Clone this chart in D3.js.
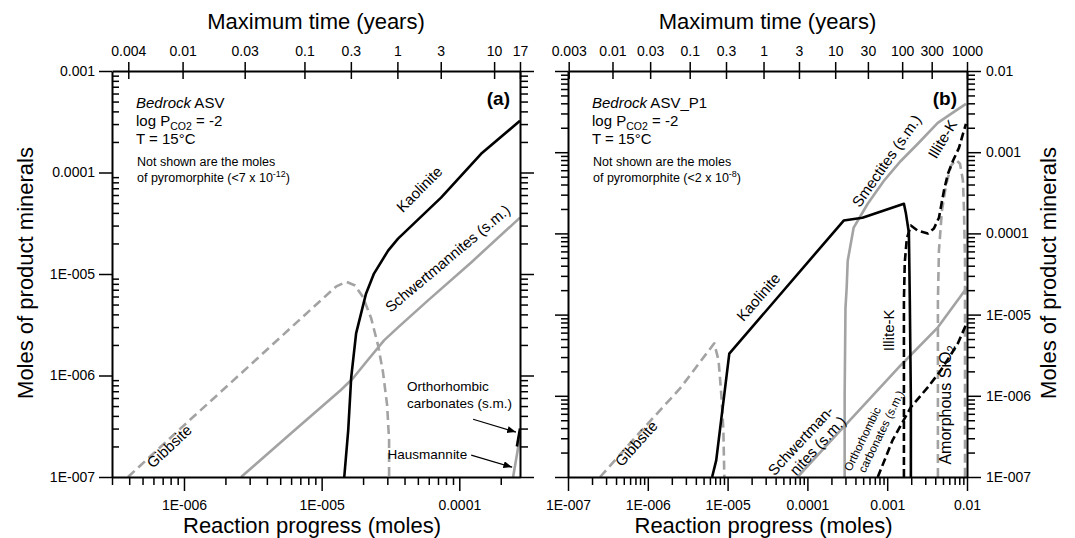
<!DOCTYPE html>
<html>
<head>
<meta charset="utf-8">
<script src="https://cdn.jsdelivr.net/npm/d3@7"></script>
<style>
body { margin: 0; background: #fff; }
svg text { font-family: "Liberation Sans", Arial, sans-serif; fill: #000; }
</style>
</head>
<body>
<svg id="chart" width="1075" height="538"></svg>
<script>
// values: [reaction progress (moles), moles of mineral]

// ---- panel (a): Bedrock ASV ----
var xTicksA = [1e-6, 1e-5, 1e-4];
var xLabelsA = ["1E-006", "1E-005", "0.0001"];
var yTicksA = [1e-7, 1e-6, 1e-5, 1e-4, 1e-3];
var yLabelsA = ["1E-007", "1E-006", "1E-005", "0.0001", "0.001"];
var timeLabelsA = ["0.004", "0.01", "0.03", "0.1", "0.3", "1", "3", "10", "17"];
var timeProgressA = [3.94e-7, 9.77e-7, 2.76e-6, 7.5e-6, 1.63e-5, 3.55e-5, 7.33e-5, 1.79e-4, 2.76e-4];

var gibbsiteA = [[3.92e-7, 1e-7], [9.5e-7, 3.03e-7], [2.6e-6, 1.05e-6], [7.1e-6, 3.66e-6],
  [1.27e-5, 7.5e-6], [1.51e-5, 8.4e-6], [1.75e-5, 7.7e-6], [2.0e-5, 5.9e-6], [2.29e-5, 3.66e-6],
  [2.57e-5, 1.98e-6], [2.79e-5, 1.08e-6], [2.99e-5, 5.1e-7], [3.09e-5, 2.3e-7], [3.09e-5, 1e-7]];
var kaoliniteA = [[1.46e-5, 1e-7], [1.56e-5, 2.9e-7], [1.64e-5, 9.6e-7], [1.78e-5, 2.6e-6],
  [2.1e-5, 6.4e-6], [2.4e-5, 1.01e-5], [3.04e-5, 1.7e-5], [3.59e-5, 2.23e-5], [7.37e-5, 5.65e-5],
  [1.44e-4, 1.53e-4], [2.76e-4, 3.23e-4]];
var schwertA = [[2.6e-6, 1e-7], [6.0e-6, 2.7e-7], [1.38e-5, 7.2e-7], [1.69e-5, 9.4e-7],
  [2.1e-5, 1.35e-6], [2.84e-5, 2.22e-6], [3.59e-5, 2.98e-6], [5.93e-5, 5.5e-6],
  [1.22e-4, 1.3e-5], [2.76e-4, 3.59e-5]];
var carbonatesA = [[2.62e-4, 2.0e-7], [2.76e-4, 3.0e-7]];
var hausmanniteA = [[2.46e-4, 1e-7], [2.76e-4, 2.5e-7]];

// ---- panel (b): Bedrock ASV_P1 ----
var xTicksB = [1e-7, 1e-6, 1e-5, 1e-4, 1e-3, 1e-2];
var xLabelsB = ["1E-007", "1E-006", "1E-005", "0.0001", "0.001", "0.01"];
var yTicksB = [1e-7, 1e-6, 1e-5, 1e-4, 1e-3, 1e-2];
var yLabelsB = ["1E-007", "1E-006", "1E-005", "0.0001", "0.001", "0.01"];
var timeLabelsB = ["0.003", "0.01", "0.03", "0.1", "0.3", "1", "3", "10", "30", "100", "300", "1000"];
var timeProgressB = [1.02e-7, 3.61e-7, 1.07e-6, 3.35e-6, 9.55e-6, 2.82e-5, 7.84e-5, 2.23e-4,
  5.73e-4, 1.54e-3, 3.61e-3, 1.0e-2];

var gibbsiteB = [[2.52e-7, 1e-7], [8.0e-7, 3.57e-7], [2.55e-6, 1.24e-6], [6.8e-6, 4.43e-6],
  [7.7e-6, 2.74e-6], [8.35e-6, 1.02e-6], [8.85e-6, 3.8e-7], [9.1e-6, 1e-7]];
var kaoliniteB = [[6.4e-6, 1e-7], [7.2e-6, 1.6e-7], [1.05e-5, 3.3e-6], [2.85e-4, 1.44e-4],
  [4.9e-4, 1.56e-4], [1.62e-3, 2.32e-4], [1.71e-3, 1.8e-4], [1.87e-3, 1.02e-4],
  [1.92e-3, 1.5e-5], [1.98e-3, 8.8e-7], [1.98e-3, 1e-7]];
var smectitesB = [[2.93e-4, 1e-7], [2.93e-4, 1e-6], [3.0e-4, 1.2e-5], [3.11e-4, 2.2e-5],
  [3.2e-4, 4.6e-5], [3.8e-4, 1.18e-4], [5.7e-4, 2.32e-4], [9.1e-4, 4.45e-4], [1.48e-3, 7.8e-4],
  [2.42e-3, 1.27e-3], [4.3e-3, 2.3e-3], [6.3e-3, 2.96e-3], [9.7e-3, 3.94e-3]];
var schwertB = [[7.53e-5, 1e-7], [1.95e-4, 2.77e-7], [5.38e-4, 8.1e-7], [1.48e-3, 2.38e-6],
  [4.32e-3, 6.97e-6], [1e-2, 2.16e-5]];
var carbonatesB = [[7.62e-4, 1e-7], [1.17e-3, 2.85e-7], [1.98e-3, 7.24e-7], [3.24e-3, 1.28e-6],
  [4.71e-3, 2.06e-6], [7.7e-3, 4.43e-6], [1e-2, 8.0e-6]];
var illiteB = [[1.62e-3, 1e-7], [1.62e-3, 1.49e-5], [1.66e-3, 4.38e-5], [1.76e-3, 8.63e-5],
  [1.98e-3, 1.25e-4], [2.42e-3, 1.08e-4], [3.24e-3, 9.95e-5], [3.85e-3, 1.15e-4],
  [4.45e-3, 1.56e-4], [5.14e-3, 3.36e-4], [5.77e-3, 5.43e-4], [6.67e-3, 7.84e-4],
  [7.93e-3, 1.13e-3], [8.9e-3, 1.68e-3], [9.7e-3, 2.23e-3]];
var amorphousB = [[4.32e-3, 1e-7], [4.32e-3, 1.49e-5], [4.45e-3, 6.15e-5], [4.85e-3, 1.9e-4],
  [5.45e-3, 3.87e-4], [6.29e-3, 6.8e-4], [7.28e-3, 8.07e-4], [8.17e-3, 7.2e-4],
  [8.9e-3, 4.45e-4], [9.17e-3, 1.9e-4], [9.44e-3, 4.63e-5], [9.44e-3, 1e-7]];

var gray = "#a3a3a3";
var plotTop = 71, plotBottom = 477;

var svg = d3.select("#chart");

// marker for the little arrows in panel (a)
svg.append("defs").append("marker")
  .attr("id", "arrow")
  .attr("viewBox", "0 0 10 8")
  .attr("refX", 10).attr("refY", 4)
  .attr("markerWidth", 9).attr("markerHeight", 7)
  .attr("markerUnits", "userSpaceOnUse")
  .attr("orient", "auto")
  .append("path").attr("d", "M0,0 L10,4 L0,8 Z").attr("fill", "#000");

function styleAxis(g, width) {
  g.select(".domain").attr("stroke", "#000").attr("stroke-width", width);
  g.selectAll(".tick line").attr("stroke", "#000").attr("stroke-width", 1.5);
  g.selectAll(".tick text").attr("font-size", 14).attr("fill", "#000")
    .attr("font-family", "Liberation Sans, Arial, sans-serif");
}

function minorOf(scale, major) {
  return scale.ticks().filter(function(d) {
    return major.every(function(m) { return Math.abs(m - d) / m > 1e-6; });
  });
}

function drawPanel(p) {
  var x = d3.scaleLog().domain(p.xDomain).range(p.xRange);
  var y = d3.scaleLog().domain(p.yDomain).range([plotBottom, plotTop]);
  var x0 = p.xRange[0], x1 = p.xRange[1];

  var line = d3.line()
    .x(function(d) { return x(d[0]); })
    .y(function(d) { return y(d[1]); });

  // curves
  p.series.forEach(function(s) {
    svg.append("path")
      .datum(s.data)
      .attr("fill", "none")
      .attr("stroke", s.color)
      .attr("stroke-width", 2.6)
      .attr("stroke-dasharray", s.dash || null)
      .attr("stroke-linejoin", "round")
      .attr("d", line);
  });

  // bottom axis
  var xMinor = minorOf(x, p.xTicks);
  var gb = svg.append("g").attr("transform", "translate(0," + plotBottom + ")")
    .call(d3.axisBottom(x).tickValues(p.xTicks).tickSize(14).tickSizeOuter(0).tickPadding(9)
      .tickFormat(function(d, i) { return p.xLabels[i]; }));
  styleAxis(gb, 2);
  var gbm = svg.append("g").attr("transform", "translate(0," + plotBottom + ")")
    .call(d3.axisBottom(x).tickValues(xMinor).tickSize(8).tickFormat(""));
  gbm.select(".domain").remove();
  styleAxis(gbm, 2);

  // top axis: maximum time
  var gt = svg.append("g").attr("transform", "translate(0," + plotTop + ")")
    .call(d3.axisTop(x).tickValues(p.timeProgress).tickSize(9).tickSizeOuter(0).tickPadding(6)
      .tickFormat(function(d, i) { return p.timeLabels[i]; }));
  styleAxis(gt, 2);
  gt.selectAll(".tick line").attr("y1", 8);

  // y axes
  var yMinor = minorOf(y, p.yTicks);
  var gl = svg.append("g").attr("transform", "translate(" + x0 + ",0)")
    .call(d3.axisLeft(y).tickValues(p.yTicks).tickSize(13).tickSizeOuter(0).tickPadding(4)
      .tickFormat(function(d, i) { return p.leftLabels ? p.yLabels[i] : ""; }));
  styleAxis(gl, 2);
  var glm = svg.append("g").attr("transform", "translate(" + x0 + ",0)")
    .call((p.leftMinorInside ? d3.axisRight(y) : d3.axisLeft(y))
      .tickValues(yMinor).tickSize(7).tickFormat(""));
  glm.select(".domain").remove();
  styleAxis(glm, 2);

  var gr = svg.append("g").attr("transform", "translate(" + x1 + ",0)")
    .call(d3.axisRight(y).tickValues(p.yTicks).tickSize(14).tickSizeOuter(0).tickPadding(5)
      .tickFormat(function(d, i) { return p.leftLabels ? "" : p.yLabels[i]; }));
  styleAxis(gr, 2);
  var grm = svg.append("g").attr("transform", "translate(" + x1 + ",0)")
    .call(d3.axisRight(y).tickValues(yMinor).tickSize(8).tickFormat(""));
  grm.select(".domain").remove();
  styleAxis(grm, 2);

  // curve labels, placed in data units
  p.labels.forEach(function(l) {
    var t = svg.append("text")
      .attr("transform", "translate(" + x(l.at[0]) + "," + y(l.at[1]) + ") rotate(" + l.angle + ")")
      .attr("font-size", l.size || 15)
      .attr("text-anchor", l.anchor || "middle");
    l.lines.forEach(function(txt, i) {
      var ts = t.append("tspan").attr("x", (l.dx || 0) * i).attr("y", (l.lead || 16) * i + (l.y0 || 0));
      if (txt === "Amorphous SiO2") {
        ts.text("Amorphous SiO");
        t.append("tspan").attr("dy", 4).attr("font-size", 11).text("2");
      } else {
        ts.text(txt);
      }
    });
  });

  (p.arrows || []).forEach(function(a) {
    svg.append("line")
      .attr("x1", x(a[0][0])).attr("y1", y(a[0][1]))
      .attr("x2", x(a[1][0])).attr("y2", y(a[1][1]))
      .attr("stroke", "#000").attr("stroke-width", 1.2)
      .attr("marker-end", "url(#arrow)");
  });

  // info block
  var tx = x0 + 24;
  var b = svg.append("text").attr("x", tx).attr("y", 108).attr("font-size", 15);
  b.append("tspan").attr("font-style", "italic").text("Bedrock");
  b.append("tspan").text(" " + p.rock);
  var l2 = svg.append("text").attr("x", tx).attr("y", 126).attr("font-size", 15);
  l2.append("tspan").text("log P");
  l2.append("tspan").attr("dy", 4).attr("font-size", 10.5).text("CO2");
  l2.append("tspan").attr("dy", -4).text(" = -2");
  svg.append("text").attr("x", tx).attr("y", 144).attr("font-size", 15).text("T = 15\u00B0C");
  svg.append("text").attr("x", tx + 1).attr("y", 166).attr("font-size", 12.5).text("Not shown are the moles");
  var l5 = svg.append("text").attr("x", tx + 1).attr("y", 182).attr("font-size", 12.5);
  l5.append("tspan").text("of pyromorphite (<" + p.pyro + " x 10");
  l5.append("tspan").attr("dy", -5).attr("font-size", 9).text(p.pyroExp);
  l5.append("tspan").attr("dy", 5).text(")");

  svg.append("text").attr("x", x1 - 10).attr("y", 105).attr("font-size", 19)
    .attr("font-weight", "bold").attr("text-anchor", "end").text(p.tag);

  // axis titles
  var cx = (x0 + x1) / 2;
  svg.append("text").attr("x", cx + p.titleShift).attr("y", 29).attr("font-size", 22)
    .attr("text-anchor", "middle").text("Maximum time (years)");
  svg.append("text").attr("x", cx - 4).attr("y", 533).attr("font-size", 22)
    .attr("text-anchor", "middle").text("Reaction progress (moles)");
}

drawPanel({
  xDomain: [3e-7, 2.76e-4], xRange: [112, 520], yDomain: [1e-7, 1e-3],
  xTicks: xTicksA, xLabels: xLabelsA, yTicks: yTicksA, yLabels: yLabelsA,
  timeLabels: timeLabelsA, timeProgress: timeProgressA,
  leftLabels: true, leftMinorInside: true,
  rock: "ASV", pyro: "7", pyroExp: "-12", tag: "(a)", titleShift: 0,
  series: [
    { data: gibbsiteA, color: gray, dash: "9,5" },
    { data: schwertA, color: gray },
    { data: hausmanniteA, color: gray },
    { data: carbonatesA, color: "#000" },
    { data: kaoliniteA, color: "#000" }
  ],
  labels: [
    { lines: ["Gibbsite"], at: [8.3e-7, 1.84e-7], angle: -43 },
    { lines: ["Kaolinite"], at: [5.45e-5, 6.3e-5], angle: -45 },
    { lines: ["Schwertmannites (s.m.)"], at: [8.7e-5, 1.3e-5], angle: -40 },
    { lines: ["Orthorhombic", "carbonates (s.m.)"], at: [4.17e-5, 7.0e-7], angle: 0,
      anchor: "start", size: 13.5, lead: 17 },
    { lines: ["Hausmannite"], at: [1.14e-4, 1.5e-7], angle: 0, anchor: "end", size: 13.5 }
  ],
  arrows: [
    [[1.26e-4, 3.71e-7], [2.58e-4, 2.77e-7]],
    [[1.22e-4, 1.64e-7], [2.42e-4, 1.25e-7]]
  ]
});

drawPanel({
  xDomain: [1e-7, 1e-2], xRange: [568, 967], yDomain: [1e-7, 1e-2],
  xTicks: xTicksB, xLabels: xLabelsB, yTicks: yTicksB, yLabels: yLabelsB,
  timeLabels: timeLabelsB, timeProgress: timeProgressB,
  leftLabels: false, leftMinorInside: false,
  rock: "ASV_P1", pyro: "2", pyroExp: "-8", tag: "(b)", titleShift: 0,
  series: [
    { data: gibbsiteB, color: gray, dash: "9,5" },
    { data: smectitesB, color: gray },
    { data: schwertB, color: gray },
    { data: amorphousB, color: gray, dash: "9,5" },
    { data: kaoliniteB, color: "#000" },
    { data: carbonatesB, color: "#000", dash: "8,4" },
    { data: illiteB, color: "#000", dash: "8,4" }
  ],
  labels: [
    { lines: ["Gibbsite"], at: [8.0e-7, 2.34e-7], angle: -48 },
    { lines: ["Kaolinite"], at: [2.73e-5, 1.49e-5], angle: -49 },
    { lines: ["Smectites (s.m.)"], at: [1.11e-3, 7.2e-4], angle: -55 },
    { lines: ["Schwertman-", "nites (s.m.)"], at: [9.8e-5, 2.4e-7], angle: -47, y0: -3, dx: 8 },
    { lines: ["Orthorhombic", "carbonates (s.m.)"], at: [3.49e-4, 1.15e-7], angle: -64,
      anchor: "start", size: 11.5, lead: 13.5, dx: 5 },
    { lines: ["Illite-K"], at: [1.21e-3, 6.4e-6], angle: -90 },
    { lines: ["Illite-K"], at: [5.6e-3, 1.34e-3], angle: -59 },
    { lines: ["Amorphous SiO2"], at: [6.3e-3, 7.7e-7], angle: -90, size: 16 }
  ]
});

// shared y titles
svg.append("text").attr("transform", "translate(33,273) rotate(-90)")
  .attr("font-size", 22).attr("text-anchor", "middle").text("Moles of product minerals");
svg.append("text").attr("transform", "translate(1056,273) rotate(-90)")
  .attr("font-size", 22).attr("text-anchor", "middle").text("Moles of product minerals");
</script>
</body>
</html>
